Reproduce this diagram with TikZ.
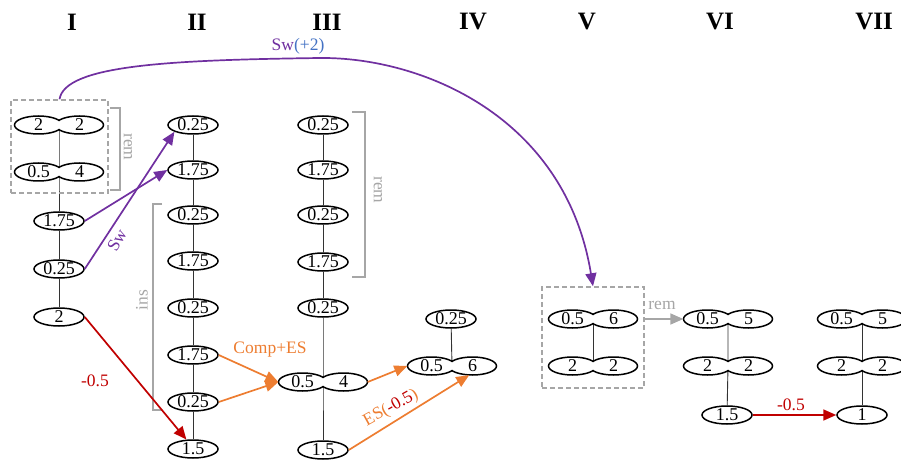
\documentclass[tikz,border=0pt]{standalone}
\usepackage{fontspec}
\setmainfont{Liberation Serif}
\usetikzlibrary{arrows.meta,shapes.geometric}
\pgfdeclarelayer{bg}
\pgfsetlayers{bg,main}
\definecolor{cpur}{HTML}{7030A0}
\definecolor{cblue}{HTML}{4472C4}
\definecolor{cred}{HTML}{C00000}
\definecolor{corg}{HTML}{ED7D31}
\definecolor{cgray}{HTML}{A6A6A6}
\tikzset{
  num/.style={font=\fontsize{18}{18}\selectfont},
  lbl/.style={font=\fontsize{17.5}{17.5}\selectfont, inner sep=0pt},
  hdr/.style={font=\fontsize{25}{25}\selectfont\bfseries},
  sell/.style={ellipse, draw, line width=1.5pt, fill=white, minimum width=50pt, minimum height=18pt, inner sep=0pt, num},
  hell/.style={ellipse, fill=white, minimum width=48pt, minimum height=18pt, inner sep=0pt, num},
  vline/.style={line width=0.9pt, black!80},
  dashbox/.style={draw=cgray, line width=1.5pt, dash pattern=on 5pt off 3pt, inner sep=0pt},
  brk/.style={draw=cgray, line width=1.4pt},
  tip/.style={-{Triangle[length=13pt,width=11pt]}},
  parr/.style={tip, draw=cpur, line width=1.7pt},
  rarr/.style={tip, draw=cred, line width=1.7pt},
  oarr/.style={tip, draw=corg, line width=1.7pt},
  garr/.style={tip, draw=cgray, line width=1.7pt},
}
\newcommand\dbl[5]{%
  \node[hell] (#1l) at ({#2-20.5},#3) {#4};
  \node[hell] (#1r) at ({#2+20.5},#3) {#5};
  \coordinate (#1) at (#2,#3);
  \begin{scope}
    \clip ({#2-50},{#3-14}) rectangle (#2,{#3+14});
    \draw[line width=1.5pt] ({#2-20.5},#3) ellipse [x radius=24, y radius=9];
  \end{scope}
  \begin{scope}
    \clip ({#2+50},{#3-14}) rectangle (#2,{#3+14});
    \draw[line width=1.5pt] ({#2+20.5},#3) ellipse [x radius=24, y radius=9];
  \end{scope}
}
\begin{document}
\begin{tikzpicture}[x=1pt,y=-1pt]
\useasboundingbox (0,0) rectangle (901,462);
% headers
\node[hdr] (h1) at (72,22) {I};
\node[hdr] (h2) at (197,22) {II};
\node[hdr] (h3) at (327,22) {III};
\node[hdr] (h4) at (473,22) {IV};
\node[hdr] (h5) at (587,22) {V};
\node[hdr] (h6) at (720,22) {VI};
\node[hdr] (h7) at (874,22) {VII};
% column I
\dbl{I1}{59}{125}{2}{2}
\dbl{I2}{59}{172}{0.5}{4}
\node[sell] (I3) at (59,221) {1.75};
\node[sell] (I4) at (59,269) {0.25};
\node[sell] (I5) at (59,317) {2};
\node[dashbox, minimum width=97pt, minimum height=93pt] (boxI) at (59.5,146.5) {};
\draw[brk] (110,108) -- (120,108) -- (120,190) -- (110,190);
\node[lbl, text=cgray, rotate=-90] (remI) at (128,147) {rem};
% column II
\node[sell] (II1) at (193,125) {0.25};
\node[sell] (II2) at (193,170) {1.75};
\node[sell] (II3) at (193,215) {0.25};
\node[sell] (II4) at (193,261) {1.75};
\node[sell] (II5) at (193,308) {0.25};
\node[sell] (II6) at (193,355) {1.75};
\node[sell] (II7) at (193,402) {0.25};
\node[sell] (II8) at (193,449) {1.5};
\draw[brk] (162,204) -- (153,204) -- (153,410) -- (162,410);
\node[lbl, text=cgray, rotate=90] (ins) at (142,300) {ins};
% column III
\node[sell] (III1) at (323,125) {0.25};
\node[sell] (III2) at (323,170) {1.75};
\node[sell] (III3) at (323,215) {0.25};
\node[sell] (III4) at (323,262) {1.75};
\node[sell] (III5) at (323,308) {0.25};
\dbl{III6}{323}{382}{0.5}{4}
\node[sell] (III7) at (323,450) {1.5};
\draw[brk] (352,112) -- (365,112) -- (365,277) -- (352,277);
\node[lbl, text=cgray, rotate=-90] (remIII) at (378,190) {rem};
% column IV
\node[sell] (IV1) at (451,319) {0.25};
\dbl{IV2}{452}{366}{0.5}{6}
% column V
\dbl{V1}{593}{319}{0.5}{6}
\dbl{V2}{593}{366}{2}{2}
\node[dashbox, minimum width=102pt, minimum height=101pt] (boxV) at (593,337.5) {};
% column VI
\dbl{VI1}{728}{319}{0.5}{5}
\dbl{VI2}{728}{366}{2}{2}
\node[sell] (VI3) at (727,415) {1.5};
% column VII
\dbl{VII1}{862}{319}{0.5}{5}
\dbl{VII2}{862}{366}{2}{2}
\node[sell] (VII3) at (862,415) {1};
% vertical links
\begin{pgfonlayer}{bg}
\draw[vline] (I1) -- (I2) -- (I3) -- (I4) -- (I5);
\draw[vline] (II1) -- (II2) -- (II3) -- (II4) -- (II5) -- (II6) -- (II7) -- (II8);
\draw[vline] (III1) -- (III2) -- (III3) -- (III4) -- (III5) -- (III6) -- (III7);
\draw[vline] (IV1) -- (IV2);
\draw[vline] (V1) -- (V2);
\draw[vline] (VI1) -- (VI2) -- (VI3);
\draw[vline] (VII1) -- (VII2) -- (VII3);
\end{pgfonlayer}
% arrows
\draw[parr] (boxI.north) .. controls (65,65) and (170,60) .. (320,58)
   .. controls (420,57) and (565,115) .. (boxV.north);
\node[lbl] (lsw2) at (298,46) {\textcolor{cpur}{Sw}\textcolor{cblue}{(+2)}};
\draw[parr] (I3.east) -- (II2.west);
\draw[parr] (I4.east) -- (II1.200);
\node[lbl, text=cpur, rotate=60] (lsw) at (117,240) {Sw};
\draw[rarr] (I5.east) -- (II8.125);
\node[lbl, text=cred] (lm1) at (95,381) {-0.5};
\draw[oarr] (II6.east) -- (III6l.west);
\draw[oarr] (II7.east) -- (III6l.west);
\node[lbl, text=corg] (lce) at (270,350) {Comp+ES};
\draw[oarr] (III6r.east) -- (IV2l.west);
\draw[oarr] (III7.east) -- (IV2r.250);
\node[lbl, rotate=29] (les) at (391,408) {\textcolor{corg}{ES(}\textcolor{cred}{-0.5}\textcolor{corg}{)}};
\draw[garr] (boxV.east |- V1) -- (VI1l.west);
\node[lbl, text=cgray] (lrem) at (662,305) {rem};
\draw[rarr] (VI3.east) -- (VII3.west);
\node[lbl, text=cred] (lm2) at (791,405) {-0.5};
\end{tikzpicture}
\end{document}
